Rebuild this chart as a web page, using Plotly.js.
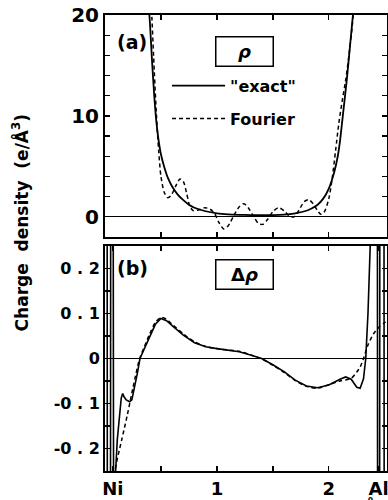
<!DOCTYPE html>
<html><head><meta charset="utf-8">
<script src="https://cdn.plot.ly/plotly-3.0.1.min.js"></script>
<style>html,body{margin:0;padding:0;background:#fff;}#chart{width:388px;height:500px;}</style>
</head><body><div id="chart"></div>
<script>
// (a) total charge density rho along Ni-Al line
const xRhoExact = [0.37,0.40,0.42,0.44,0.46,0.48,0.50,0.53,0.56,0.60,0.65,0.70,0.75,0.80,0.90,1.0,1.1,1.2,1.3,1.4,1.5,1.6,1.7,1.8,1.85,1.9,1.95,2.0,2.05,2.08,2.1,2.13,2.16,2.19,2.22,2.25];
const rhoExact = [24,19.5,15.5,12,9.3,7.5,6.2,4.9,3.9,3.0,2.2,1.65,1.2,0.9,0.55,0.35,0.25,0.2,0.17,0.16,0.17,0.22,0.35,0.6,0.85,1.2,1.8,2.8,4.5,6,7.5,10.5,13.5,17,20.5,24];
const xRhoFourier = [0.40,0.42,0.44,0.46,0.48,0.50,0.53,0.56,0.59,0.63,0.67,0.70,0.73,0.76,0.79,0.84,0.89,0.94,0.98,1.02,1.06,1.10,1.15,1.20,1.24,1.28,1.33,1.37,1.41,1.45,1.50,1.55,1.60,1.65,1.69,1.73,1.78,1.82,1.86,1.90,1.93,1.96,2.00,2.03,2.06,2.09,2.12,2.15,2.18,2.21,2.24];
const rhoFourier = [24,19.5,14.5,10,6.5,4.0,2.4,1.9,2.1,3.0,3.75,3.5,2.3,1.0,0.6,0.7,0.9,0.75,0.3,-0.6,-1.2,-0.9,0.1,1.0,1.3,0.9,0.0,-0.65,-0.75,-0.3,0.5,0.9,0.6,0.05,0.0,0.6,1.5,1.7,1.3,0.6,0.25,0.5,1.8,3.8,6.5,9.3,11.5,13.5,16,19,23];
// (b) deformation density delta rho
const xDrhoExact = [0.0,0.019,0.021,0.049,0.051,0.073,0.077,0.085,0.095,0.11,0.13,0.145,0.158,0.17,0.19,0.22,0.24,0.26,0.29,0.3125,0.35,0.40,0.45,0.50,0.55,0.60,0.70,0.80,0.90,1.0,1.1,1.2,1.3,1.4,1.5,1.6,1.7,1.8,1.9,2.0,2.1,2.15,2.2,2.25,2.28,2.31,2.33,2.35,2.37,2.39,2.434,2.436,2.454,2.456,2.493,2.495,2.52];
const drhoExact = [0.4,0.4,-0.4,-0.4,0.4,0.4,-0.4,-0.3,-0.25,-0.18,-0.115,-0.088,-0.078,-0.085,-0.092,-0.096,-0.092,-0.07,-0.032,0.0,0.02,0.05,0.076,0.089,0.084,0.073,0.052,0.035,0.026,0.022,0.019,0.015,0.008,0.0,-0.014,-0.029,-0.048,-0.061,-0.065,-0.059,-0.046,-0.041,-0.046,-0.064,-0.066,-0.045,0.0,0.1,0.25,0.4,0.4,-0.4,-0.4,0.4,0.4,-0.4,-0.4];
const xDrhoFourier = [0.085,0.1,0.15,0.2,0.25,0.31,0.35,0.40,0.45,0.50,0.55,0.60,0.70,0.80,0.90,1.0,1.1,1.2,1.3,1.4,1.5,1.6,1.7,1.8,1.9,2.0,2.1,2.2,2.25,2.28,2.31,2.35,2.40,2.45,2.50,2.52];
const drhoFourier = [-0.26,-0.235,-0.18,-0.125,-0.065,0.0,0.025,0.055,0.08,0.091,0.087,0.076,0.055,0.037,0.027,0.022,0.019,0.016,0.008,-0.001,-0.015,-0.031,-0.049,-0.062,-0.066,-0.058,-0.05,-0.044,-0.03,-0.019,0.0,0.03,0.055,0.07,0.08,0.086];
// ticks
const xTickVals = [0.07,0.5,1,1.5,2,2.445];
const xTickText = ['Ni','','1','','2','Al'];
const rhoTickVals = [0,2,4,6,8,10,12,14,16,18,20];
const rhoTickText = ['0','','','','','10','','','','','20'];
const drhoTickVals = [-0.25,-0.2,-0.15,-0.1,-0.05,0,0.05,0.1,0.15,0.2,0.25];
const drhoTickText = ['','-0\u00a0.\u00a02','','-0\u00a0.\u00a01','','0','','0\u00a0.\u00a01','','0\u00a0.\u00a02',''];
const legendNames = ['"exact"','Fourier'];

const FONT = 'DejaVu Sans, Liberation Sans, sans-serif';
const traces = [
  {x: xRhoExact, y: rhoExact, xaxis:'x2', yaxis:'y2', mode:'lines', name: legendNames[0], legendgroup:'a',
   line:{color:'#000', width:1.8, shape:'spline', smoothing:0.6}},
  {x: xRhoFourier, y: rhoFourier, xaxis:'x2', yaxis:'y2', mode:'lines', name: legendNames[1], legendgroup:'b',
   line:{color:'#000', width:1.5, dash:'4px,3px', shape:'spline', smoothing:0.8}},
  {x: xDrhoExact, y: drhoExact, xaxis:'x', yaxis:'y', mode:'lines', showlegend:false,
   line:{color:'#000', width:1.6}},
  {x: xDrhoFourier, y: drhoFourier, xaxis:'x', yaxis:'y', mode:'lines', showlegend:false,
   line:{color:'#000', width:1.5, dash:'4px,3px', shape:'spline', smoothing:0.8}}
];
const axBase = {showline:true, linewidth:2, linecolor:'#000', mirror:'ticks', ticks:'inside', ticklen:5, tickwidth:1.3, tickcolor:'#000', showgrid:false};
const layout = {
  width:388, height:500, margin:{l:105, r:1, t:15, b:29},
  paper_bgcolor:'#fff', plot_bgcolor:'#fff',
  font:{family:FONT, color:'#000'},
  showlegend:true,
  legend:{x:0.22, y:0.882, xanchor:'left', yanchor:'top', bgcolor:'rgba(0,0,0,0)', borderwidth:0,
    font:{family:FONT, size:16, weight:'bold'}, tracegroupgap:9, itemwidth:53},
  xaxis: Object.assign({}, axBase, {domain:[0,1], range:[0,2.52], anchor:'y', tickmode:'array', tickvals:xTickVals, ticktext:xTickText,
    ticklabeloverflow:'allow', tickfont:{family:FONT, size:18, weight:'bold'}}),
  xaxis2: Object.assign({}, axBase, {domain:[0,1], range:[0,2.52], anchor:'y2', matches:'x', tickmode:'array', tickvals:[0.5,1,1.5,2], showticklabels:false}),
  yaxis: Object.assign({}, axBase, {domain:[0,0.4934], range:[-0.25,0.25], anchor:'x', tickmode:'array', tickvals:drhoTickVals, ticktext:drhoTickText,
    zeroline:true, zerolinecolor:'#000', zerolinewidth:1.2, tickfont:{family:FONT, size:16, weight:'bold'}}),
  yaxis2: Object.assign({}, axBase, {domain:[0.5132,1], range:[-2,20], anchor:'x2', tickmode:'array', tickvals:rhoTickVals, ticktext:rhoTickText,
    zeroline:true, zerolinecolor:'#000', zerolinewidth:1.2, tickfont:{family:FONT, size:20, weight:'bold'}}),
  annotations:[
    {text:'<b>(a)</b>', xref:'paper', yref:'paper', x:0.035, y:0.941, xanchor:'left', yanchor:'middle', showarrow:false, font:{family:FONT, size:19}},
    {text:'<b>(b)</b>', xref:'paper', yref:'paper', x:0.035, y:0.445, xanchor:'left', yanchor:'middle', showarrow:false, font:{family:FONT, size:19}},
    {text:'<b><i>ρ</i></b>', xref:'paper', yref:'paper', x:0.496, y:0.919, xanchor:'center', yanchor:'middle', showarrow:false,
     font:{family:FONT, size:18}, bordercolor:'#000', borderwidth:1.5, width:54, height:26, borderpad:1},
    {text:'<b>Δ<i>ρ</i></b>', xref:'paper', yref:'paper', x:0.496, y:0.432, xanchor:'center', yanchor:'middle', showarrow:false,
     font:{family:FONT, size:18}, bordercolor:'#000', borderwidth:1.5, width:54, height:26, borderpad:1},
    {text:'<b>Charge\u00a0 density\u00a0 (e/Å<sup>3</sup>)</b>', xref:'paper', yref:'paper', x:-0.30, y:0.546, xanchor:'center', yanchor:'middle', textangle:-90,
     showarrow:false, font:{family:FONT, size:17}},
    {text:'<b>(Å)</b>', xref:'paper', yref:'paper', x:0.94, y:-0.052, xanchor:'center', yanchor:'top', showarrow:false, font:{family:FONT, size:16}}
  ]
};
Plotly.newPlot('chart', traces, layout, {staticPlot:true, displayModeBar:false});
</script></body></html>
